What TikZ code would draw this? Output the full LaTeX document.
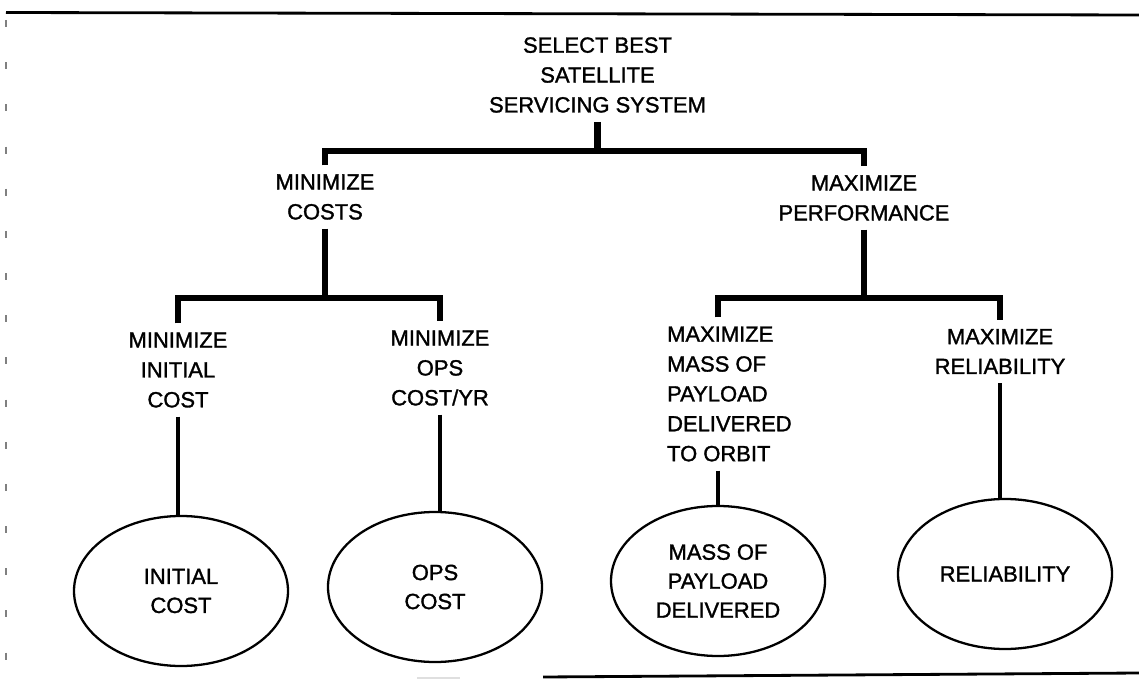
\documentclass[tikz,border=0pt]{standalone}
\usepackage{fontspec}
\setmainfont{Liberation Sans}
\newfontfamily\plotfont[FakeBold=1.4]{Liberation Sans}
\usetikzlibrary{shapes.geometric}

\begin{document}
\begin{tikzpicture}[font=\plotfont\fontsize{12.5}{17}\selectfont,
 goal/.style={align=center,inner sep=5pt},
 leaf/.style={draw,ellipse,line width=1.3pt,minimum width=4.28cm,minimum height=3cm,inner sep=0pt,align=center,font=\plotfont\fontsize{12.5}{16.5}\selectfont},
 bar/.style={line width=3.8pt},
 stem/.style={line width=2.3pt}]
\useasboundingbox (0,0) rectangle (22.78,-13.72);
\draw[line width=1.6pt] (0.12,-0.25) -- (22.78,-0.3);
\draw[line width=1.6pt] (10.86,-13.54) -- (22.78,-13.46);
\draw[line width=1.2pt,gray!25] (8.34,-13.56) -- (9.2,-13.56);
\draw[line width=0.6pt,black!50,dash pattern=on 4pt off 20pt] (0.12,-0.4) -- (0.12,-13.6);
\node[goal] (root) at (11.95,-1.5) {SELECT BEST\\SATELLITE\\SERVICING SYSTEM};
\node[goal] (mc) at (6.5,-3.94) {MINIMIZE\\COSTS};
\node[goal] (mp) at (17.28,-3.96) {MAXIMIZE\\PERFORMANCE};
\node[goal] (c1) at (3.56,-7.4) {MINIMIZE\\INITIAL\\COST};
\node[goal] (c2) at (8.8,-7.36) {MINIMIZE\\OPS\\COST/YR};
\node[goal,align=left,anchor=west] (c3) at (13.16,-7.88) {MAXIMIZE\\MASS OF\\PAYLOAD\\DELIVERED\\TO ORBIT};
\node[goal] (c4) at (20.0,-7.03) {MAXIMIZE\\RELIABILITY};
\node[leaf] (e1) at (3.62,-11.82) {INITIAL\\COST};
\node[leaf] (e2) at (8.7,-11.74) {OPS\\COST};
\node[leaf] (e3) at (14.36,-11.62) {MASS OF\\PAYLOAD\\DELIVERED};
\node[leaf] (e4) at (20.1,-11.48) {RELIABILITY};
\coordinate (j1) at (0,-3.02);
\coordinate (j2) at (0,-5.96);
\draw[bar] (root.south) -- (root.south |- j1);
\draw[bar] (mc.north) -- (mc.north |- j1) -- (mp.north |- j1) -- (mp.north);
\draw[bar] (mc.south) -- (mc.south |- j2);
\draw[bar] (mp.south) -- (mp.south |- j2);
\draw[bar] (c1.north) -- (c1.north |- j2) -- (c2.north |- j2) -- (c2.north);
\draw[bar] (e3.north |- c3.north) -- (e3.north |- j2) -- (c4.north |- j2) -- (c4.north);
\draw[stem] (c1.south) -- (c1.south |- e1.north);
\draw[stem] (c2.south) -- (c2.south |- e2.north);
\draw[stem] (c3.south -| e3.north) -- (e3.north);
\draw[stem] (c4.south) -- (c4.south |- e4.north);
\end{tikzpicture}
\end{document}
